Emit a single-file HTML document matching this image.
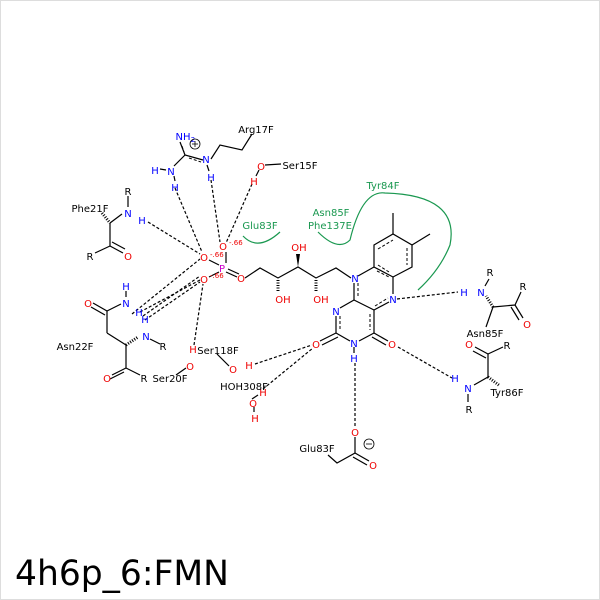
<!DOCTYPE html>
<html><head><style>body{margin:0;background:#fff}svg{display:block}</style></head><body>
<svg width="600" height="600" viewBox="0 0 600 600" xmlns="http://www.w3.org/2000/svg" font-family="DejaVu Sans, sans-serif">
<rect x="0.5" y="0.5" width="599" height="599" fill="#fff" stroke="#ddd"/>
<g stroke="#000" stroke-width="1.2" stroke-dasharray="3,2" fill="none">
<line x1="175" y1="188" x2="202" y2="252"/>
<line x1="211" y1="180" x2="220" y2="242"/>
<line x1="252" y1="184" x2="226" y2="243"/>
<line x1="148" y1="222" x2="200" y2="254"/>
<line x1="140" y1="312" x2="200" y2="280"/>
<line x1="145" y1="320" x2="200" y2="282"/>
<line x1="132" y1="314" x2="200" y2="259"/>
<line x1="143" y1="316" x2="200" y2="276"/>
<line x1="194" y1="345" x2="203" y2="284"/>
<line x1="255" y1="364" x2="312" y2="345"/>
<line x1="263" y1="389" x2="313" y2="348"/>
<line x1="355" y1="363" x2="355" y2="427"/>
<line x1="398" y1="347" x2="452" y2="378"/>
<line x1="397" y1="299" x2="458" y2="292"/>
</g>
<g stroke="#000" stroke-width="1" stroke-dasharray="3,2" fill="none">
<line x1="378" y1="249" x2="393" y2="240"/><line x1="407" y1="248" x2="407" y2="265"/><line x1="378" y1="265" x2="389" y2="272"/>
<line x1="358" y1="283" x2="358" y2="298"/><line x1="377" y1="271" x2="389" y2="277"/><line x1="375" y1="306" x2="388" y2="298"/>
<line x1="340" y1="316" x2="340" y2="330"/><line x1="370" y1="314" x2="370" y2="330"/>
<line x1="182" y1="146" x2="184" y2="152"/><line x1="189" y1="158" x2="201" y2="162"/>
</g>
<g stroke="#000" stroke-width="1.2" fill="none">
<polyline points="245,278 260,268 278,278 298,267 316,278 336,268 351,278"/>
<polygon points="374,245 393,234 412,245 412,267 393,277 374,267"/>
<line x1="393" y1="234" x2="393" y2="213"/><line x1="412" y1="245" x2="430" y2="234"/>
<line x1="358" y1="276" x2="374" y2="267"/><line x1="393" y1="277" x2="393" y2="294"/>
<line x1="354" y1="283" x2="354" y2="300"/><line x1="354" y1="300" x2="374" y2="310"/>
<line x1="374" y1="310" x2="389" y2="302"/>
<line x1="354" y1="300" x2="340" y2="308"/><line x1="336" y1="316" x2="336" y2="333"/>
<line x1="336" y1="333" x2="350" y2="341"/><line x1="359" y1="341" x2="374" y2="333"/>
<line x1="374" y1="333" x2="374" y2="310"/>
<line x1="336" y1="333" x2="320" y2="341"/><line x1="338" y1="337" x2="322" y2="345"/>
<line x1="374" y1="333" x2="388" y2="341"/><line x1="372" y1="337" x2="386" y2="345"/>
<line x1="354" y1="347" x2="354" y2="353"/>
<line x1="226" y1="263" x2="226" y2="252"/>
<line x1="219" y1="265" x2="209" y2="260"/><line x1="219" y1="272" x2="209" y2="277"/>
<line x1="226" y1="272" x2="237" y2="277"/><line x1="228" y1="269" x2="239" y2="274"/>
<polyline points="180,142 185,155 203,160"/><line x1="185" y1="155" x2="174" y2="166"/>
<line x1="160" y1="169" x2="166" y2="170"/><line x1="174" y1="176" x2="175" y2="181"/><line x1="207" y1="165" x2="209" y2="171"/>
<polyline points="211,159 220,145 242,150 252,134"/>
<line x1="265" y1="165" x2="281" y2="164"/><line x1="259" y1="170" x2="256" y2="176"/>
<line x1="128" y1="196" x2="128" y2="207"/><line x1="122" y1="214" x2="110" y2="223"/>
<line x1="110" y1="223" x2="110" y2="246"/><line x1="110" y1="246" x2="95" y2="253"/>
<line x1="110" y1="246" x2="123" y2="253"/><line x1="112" y1="242" x2="125" y2="249"/>
<line x1="126" y1="291" x2="126" y2="297"/>
<line x1="107" y1="311" x2="121" y2="304"/><line x1="107" y1="311" x2="93" y2="303"/><line x1="105" y1="315" x2="91" y2="307"/>
<line x1="107" y1="311" x2="107" y2="333"/><line x1="107" y1="333" x2="126" y2="345"/>
<line x1="126" y1="345" x2="126" y2="368"/><line x1="150" y1="339" x2="160" y2="344"/>
<line x1="126" y1="368" x2="140" y2="375"/><line x1="126" y1="368" x2="112" y2="375"/><line x1="124" y1="372" x2="110" y2="379"/>
<line x1="176" y1="375" x2="186" y2="368"/>
<line x1="217" y1="354" x2="229" y2="366"/>
<line x1="252" y1="399" x2="258" y2="395"/><line x1="254" y1="407" x2="254" y2="412"/>
<polyline points="328,455 337,463 355,453 355,437"/><line x1="355" y1="453" x2="369" y2="461"/><line x1="353" y1="457" x2="367" y2="465"/>
<line x1="485" y1="286" x2="489" y2="279"/><polyline points="493,307 515,305 521,292"/>
<line x1="515" y1="305" x2="523" y2="318"/><line x1="511" y1="307" x2="519" y2="320"/>
<line x1="493" y1="307" x2="486" y2="327"/>
<line x1="488" y1="354" x2="488" y2="377"/><line x1="488" y1="354" x2="503" y2="347"/>
<line x1="488" y1="354" x2="475" y2="347"/><line x1="486" y1="358" x2="473" y2="351"/>
<line x1="474" y1="385" x2="488" y2="377"/><line x1="468" y1="394" x2="468" y2="402"/>
</g>
<g stroke="#000" stroke-width="1" stroke-dasharray="1,1.5">
<line x1="278" y1="280" x2="278" y2="292" stroke-width="3"/><line x1="316" y1="280" x2="316" y2="292" stroke-width="3"/>
<line x1="102" y1="213" x2="110" y2="223" stroke-width="3"/><line x1="126" y1="345" x2="138" y2="337" stroke-width="3"/>
<line x1="493" y1="307" x2="486" y2="296" stroke-width="3"/><line x1="488" y1="377" x2="500" y2="386" stroke-width="3"/>
</g>
<polygon points="298,267 296,254 300,254" fill="#000"/>
<g fill="none" stroke="#1a9850" stroke-width="1.2">
<path d="M243,236 Q258,252 280,232"/>
<path d="M318,232 Q338,252 350,240 Q362,190 385,193 Q460,195 450,245 Q440,270 418,290"/>
</g>
<g font-size="10" text-anchor="middle">
<g fill="#1a9850"><text x="260" y="229">Glu83F</text><text x="331" y="216">Asn85F</text><text x="330" y="229">Phe137E</text><text x="383" y="189">Tyr84F</text></g>
<g fill="#e00">
<text x="223" y="250">O</text><text x="204" y="261">O</text><text x="204" y="283">O</text><text x="241" y="282">O</text>
<text x="299" y="251">OH</text><text x="283" y="303">OH</text><text x="321" y="303">OH</text>
<text x="316" y="348">O</text><text x="392" y="348">O</text>
<text x="261" y="170">O</text><text x="254" y="185">H</text>
<text x="128" y="260">O</text><text x="88" y="307">O</text><text x="107" y="382">O</text>
<text x="190" y="370">O</text><text x="193" y="353">H</text>
<text x="233" y="373">O</text><text x="249" y="369">H</text>
<text x="263" y="396">H</text><text x="253" y="407">O</text><text x="255" y="422">H</text>
<text x="355" y="436">O</text><text x="373" y="469">O</text>
<text x="527" y="328">O</text><text x="469" y="348">O</text>
</g>
<g fill="#e00" font-size="7" text-anchor="start"><text x="229" y="245">-.66</text><text x="210" y="257">-.66</text><text x="210" y="278">-.66</text></g>
<text x="222" y="272" fill="#c0c">P</text>
<g fill="#00f">
<text x="355" y="282">N</text><text x="393" y="303">N</text><text x="336" y="315">N</text><text x="354" y="347">N</text><text x="354" y="362">H</text>
<text x="183" y="140">NH</text><text x="155" y="174">H</text><text x="171" y="175">N</text><text x="175" y="191">H</text><text x="206" y="163">N</text><text x="211" y="181">H</text>
<text x="128" y="217">N</text><text x="142" y="224">H</text>
<text x="126" y="290">H</text><text x="126" y="307">N</text><text x="139" y="316">H</text><text x="145" y="323">H</text><text x="146" y="340">N</text>
<text x="464" y="296">H</text><text x="481" y="296">N</text><text x="455" y="382">H</text><text x="468" y="392">N</text>
</g>
<text x="193" y="142" font-size="7" fill="#00f">2</text>
<g fill="#000">
<text x="256" y="133">Arg17F</text><text x="300" y="169">Ser15F</text><text x="90" y="212">Phe21F</text>
<text x="128" y="195">R</text><text x="90" y="260">R</text><text x="75" y="350">Asn22F</text><text x="163" y="350">R</text>
<text x="144" y="382">R</text><text x="170" y="382">Ser20F</text><text x="218" y="354">Ser118F</text><text x="244" y="390">HOH308F</text>
<text x="317" y="452">Glu83F</text>
<text x="490" y="276">R</text><text x="523" y="290">R</text><text x="485" y="337">Asn85F</text>
<text x="507" y="349">R</text><text x="469" y="413">R</text><text x="507" y="396">Tyr86F</text>
</g>
</g>
<g fill="none" stroke="#000" stroke-width="0.8"><circle cx="195" cy="144" r="5"/><line x1="192" y1="144" x2="198" y2="144"/><line x1="195" y1="141" x2="195" y2="147"/>
<circle cx="369" cy="444" r="5"/><line x1="366" y1="444" x2="372" y2="444"/></g>
<text x="15" y="585" font-size="34.5" font-family="DejaVu Sans, sans-serif">4h6p_6:FMN</text>
</svg>
</body></html>
